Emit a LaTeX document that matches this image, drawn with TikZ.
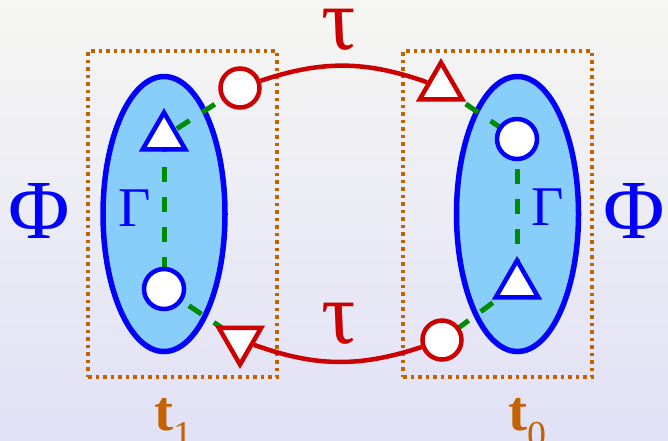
\documentclass[tikz,border=0pt]{standalone}
\usepackage{fontspec}
\setmainfont{Liberation Serif}
\usetikzlibrary{shapes.geometric}
\definecolor{bblue}{RGB}{0,0,255}
\definecolor{lblue}{RGB}{135,206,250}
\definecolor{rred}{RGB}{204,0,0}
\definecolor{ggreen}{RGB}{0,140,0}
\definecolor{orng}{RGB}{196,98,0}
\definecolor{bgtop}{RGB}{246,246,242}
\definecolor{bgbot}{RGB}{225,225,247}
\pgfdeclarelayer{bg}
\pgfdeclarelayer{lines}
\pgfsetlayers{bg,lines,main}
\begin{document}
\begin{tikzpicture}[x=1pt,y=-1pt,
  ell/.style={ellipse, draw=bblue, fill=lblue, line width=5.5pt, minimum width=122pt, minimum height=275pt, inner sep=0pt},
  bcirc/.style={circle, draw=bblue, fill=white, line width=4.5pt, minimum size=40pt, inner sep=0pt},
  rcirc/.style={circle, draw=rred, fill=white, line width=4.5pt, minimum size=39pt, inner sep=0pt},
  btri/.style={regular polygon, regular polygon sides=3, draw=bblue, fill=white, line width=4.5pt, minimum size=49pt, inner sep=0pt},
  rtri/.style={regular polygon, regular polygon sides=3, draw=rred, fill=white, line width=4.5pt, minimum size=49pt, inner sep=0pt},
  rtridown/.style={rtri, shape border rotate=180},
  gline/.style={draw=ggreen, line width=5pt, dash pattern=on 15pt off 15pt},
  rline/.style={draw=rred, line width=4.5pt},
  tbox/.style={rectangle, draw=orng, line width=3.5pt, dash pattern=on 3.5pt off 4pt, minimum width=189pt, minimum height=326pt, inner sep=0pt},
  phitxt/.style={text=bblue, font=\fontsize{84}{84}\selectfont, inner sep=0pt},
  gamtxt/.style={text=bblue, font=\fontsize{56}{56}\selectfont, inner sep=0pt},
  tautxt/.style={text=rred, font=\itshape\fontsize{88}{88}\selectfont, inner sep=0pt, xslant=-0.22, transform shape},
  ttxt/.style={text=orng, inner sep=0pt, anchor=base west}
]
\useasboundingbox (0,0) rectangle (668,440);
\begin{pgfonlayer}{bg}
  \shade[top color=bgtop, bottom color=bgbot] (0,0) rectangle (668,440);
  \node[tbox] (box1) at (182.5,214) {};
  \node[tbox] (box2) at (497.5,214) {};
  \node[ell] (E1) at (164,214) {};
  \node[ell] (E2) at (517.5,214) {};
\end{pgfonlayer}

% shapes
\node[btri] (BT1) at (164,137) {};
\node[bcirc] (BC1) at (164,289) {};
\node[bcirc] (BC2) at (517,139) {};
\node[btri] (BT2) at (517,285) {};
\node[rcirc] (RC1) at (240,88) {};
\node[rtri] (RT1) at (441,87) {};
\node[rtridown] (RT2) at (240,340) {};
\node[rcirc] (RC2) at (442,340) {};

% green dashed links
\begin{pgfonlayer}{lines}
  \draw[gline] (BT1.center) -- (BC1.center);
  \draw[gline] (BC2.center) -- (BT2.center);
  \draw[gline] (RC1.center) -- (BT1.center);
  \draw[gline] (RT1.center) -- (BC2.center);
  \draw[gline] (BC1.center) -- (RT2.center);
  \draw[gline] (BT2.center) -- (RC2.center);
\end{pgfonlayer}

% red arcs
\draw[rline] (RC1) to[bend left=19] (RT1);
\draw[rline] (RC2) to[bend left=19] (RT2);

% labels
\node[phitxt] (phiL) at (39,211) {Φ};
\node[phitxt] (phiR) at (634,211) {Φ};
\node[gamtxt] (gamL) at (135,208) {Γ};
\node[gamtxt] (gamR) at (548,207) {Γ};
\node[tautxt] (tauT) at (340,30) {τ};
\node[tautxt] (tauB) at (340,324) {τ};
\node[ttxt] (t1) at (154,430) {\fontsize{57}{57}\selectfont\bfseries t\raisebox{-17pt}{\fontsize{38}{38}\mdseries\selectfont 1}};
\node[ttxt] (t0) at (508,430) {\fontsize{57}{57}\selectfont\bfseries t\raisebox{-17pt}{\fontsize{38}{38}\mdseries\selectfont 0}};
\end{tikzpicture}
\end{document}
